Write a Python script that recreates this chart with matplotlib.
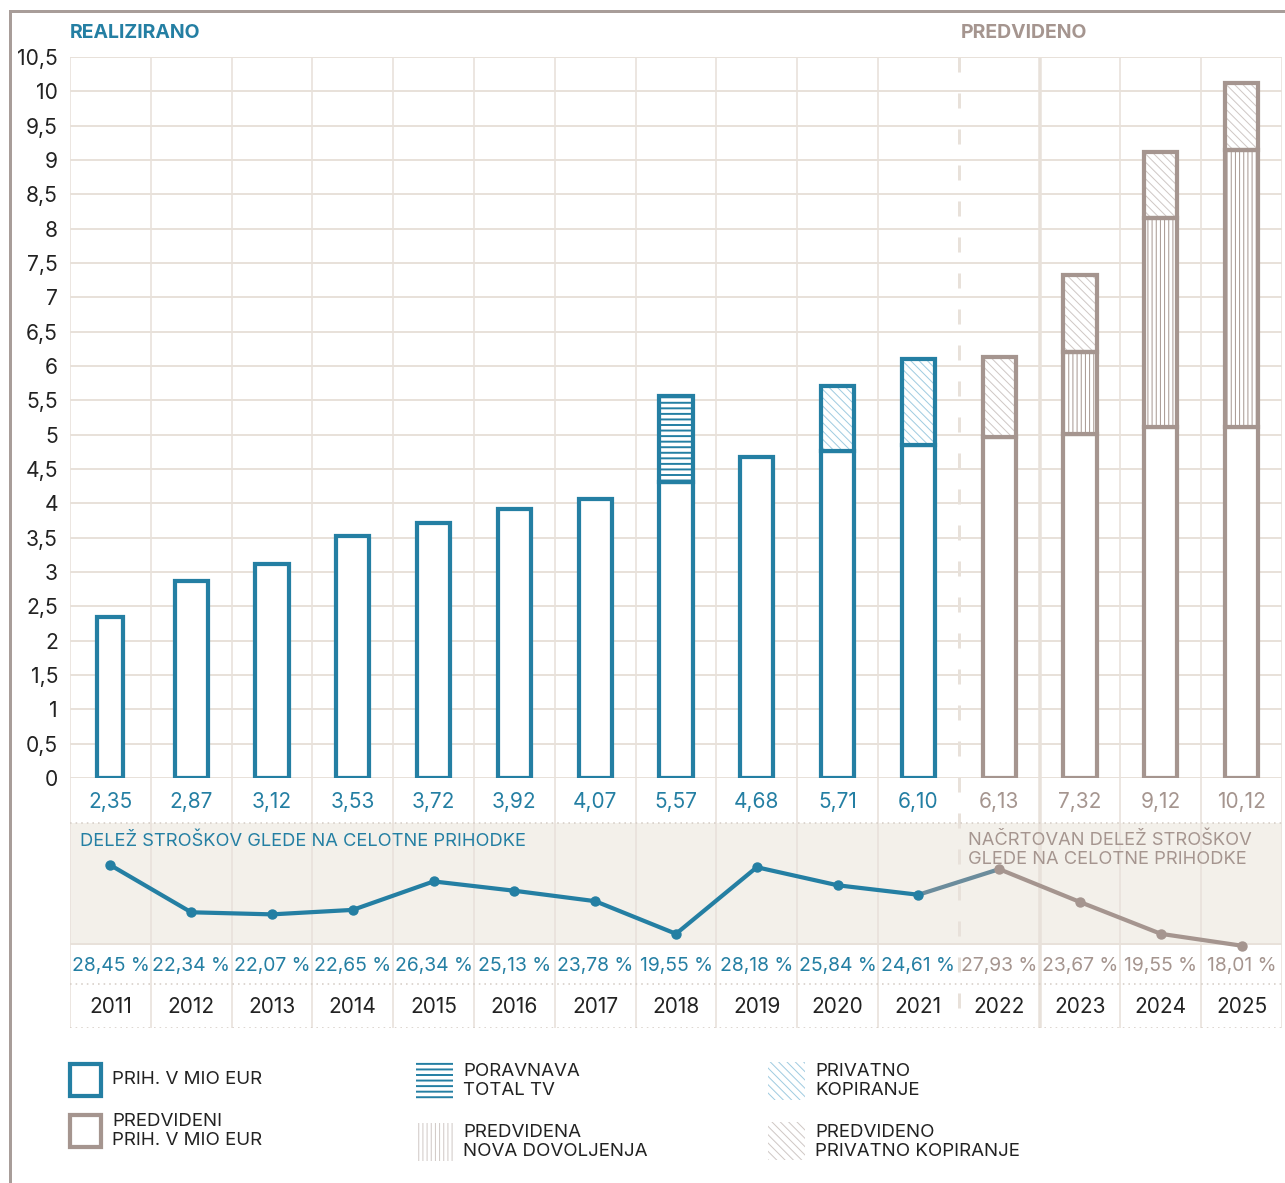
import numpy as np
import matplotlib.pyplot as plt
from matplotlib.patches import Rectangle

plt.rcParams['font.family'] = ['Inter', 'DejaVu Sans']

# data
years = [2011, 2012, 2013, 2014, 2015, 2016, 2017, 2018, 2019, 2020, 2021, 2022, 2023, 2024, 2025]
revenue = [2.35, 2.87, 3.12, 3.53, 3.72, 3.92, 4.07, 5.57, 4.68, 5.71, 6.10, 6.13, 7.32, 9.12, 10.12]
base_part = [2.35, 2.87, 3.12, 3.53, 3.72, 3.92, 4.07, 4.31, 4.68, 4.76, 4.85, 4.96, 5.01, 5.11, 5.11]
total_tv = [0, 0, 0, 0, 0, 0, 0, 1.26, 0, 0, 0, 0, 0, 0, 0]
new_licences = [0, 0, 0, 0, 0, 0, 0, 0, 0, 0, 0, 0, 1.19, 3.04, 4.03]
private_copy = [0, 0, 0, 0, 0, 0, 0, 0, 0, 0.95, 1.25, 1.17, 1.12, 0.97, 0.98]
cost_share = [28.45, 22.34, 22.07, 22.65, 26.34, 25.13, 23.78, 19.55, 28.18, 25.84, 24.61, 27.93, 23.67, 19.55, 18.01]
n_actual = 11  # 2011-2021 realised, rest planned

BLUE = '#247fa3'
GRAY = '#a5958f'
GRID = '#e8e1da'
BAND = '#f3f0ea'
DOT = '#d6cec7'
HATCH_BLUE = '#9ecbe0'
HATCH_GRAY = '#cfc7c4'
TEXT = '#222222'

W, H = 1285, 1183


def box(x0, y0, x1, y1):
    return [x0 / W, 1 - y1 / H, (x1 - x0) / W, (y1 - y0) / H]


def fmt(v, nd=2):
    return f'{v:.{nd}f}'.replace('.', ',')


def px(p):
    return p * 0.72


fig = plt.figure(figsize=(W / 100, H / 100), dpi=100)
x = np.arange(len(years))
n = len(years)

# background: band, vertical lines, rows of labels
bg = fig.add_axes(box(70, 57, 1282, 1028), zorder=0)
bg.set_xlim(-0.5, n - 0.5)
bg.set_ylim(1028, 57)
bg.axis('off')
bg.axhspan(823, 944, color=BAND, lw=0)
for k in range(n + 1):
    xb = k - 0.5
    if k == n_actual:
        bg.plot([xb, xb], [57, 1028], color=GRID, lw=px(3), ls=(0, (5, 7)),
                solid_capstyle='butt')
    elif k == n_actual + 1:
        bg.plot([xb, xb], [57, 1028], color=GRID, lw=px(3.5))
    else:
        bg.plot([xb, xb], [57, 1028], color=GRID, lw=px(1.6))
bg.plot([-0.5, n - 0.5], [944, 944], color=GRID, lw=px(2))
for yy in [823, 984, 1028]:
    bg.plot([-0.5, n - 0.5], [yy, yy], color=DOT, lw=px(1.6), ls=(0, (1, 2.5)))

for i in range(n):
    c = BLUE if i < n_actual else GRAY
    bg.text(x[i], 802, fmt(revenue[i]), color=c, fontsize=15, ha='center', va='center')
    bg.text(x[i], 966, fmt(cost_share[i]) + ' %', color=c, fontsize=13.9, ha='center', va='center')
    bg.text(x[i], 1007, str(years[i]), color=TEXT, fontsize=15, ha='center', va='center')

bg.text(-0.38, 841, 'DELEŽ STROŠKOV GLEDE NA CELOTNE PRIHODKE', color=BLUE,
        fontsize=13.2, ha='left', va='center')
bg.text(n_actual - 0.38, 850, 'NAČRTOVAN DELEŽ STROŠKOV\nGLEDE NA CELOTNE PRIHODKE', color=GRAY,
        fontsize=13.2, ha='left', va='center', linespacing=1.12)

# bar chart
ax = fig.add_axes(box(70, 57, 1282, 778), zorder=1)
ax.patch.set_alpha(0)
ax.set_xlim(-0.5, n - 0.5)
ax.set_ylim(0, 10.5)
for s in ax.spines.values():
    s.set_visible(False)
yt = np.arange(0, 10.51, 0.5)
ax.set_yticks(yt)
ax.set_yticklabels([('%g' % v).replace('.', ',') for v in yt], fontsize=15.2, color=TEXT)
ax.tick_params(axis='y', length=0, pad=px(12))
ax.set_xticks([])
for v in yt:
    ax.axhline(v, color=GRID, lw=px(2), zorder=0)

widths = [0.32] + [0.41] * (n - 1)
edge = [BLUE if i < n_actual else GRAY for i in range(n)]
lw_bar = px(4.2)

tops = np.array(base_part, dtype=float)
ax.bar(x, base_part, width=widths, color='white', edgecolor=edge, lw=lw_bar, zorder=3)

layers = [
    (total_tv, '---', BLUE, 1.4),
    (new_licences, '||||', GRAY, 0.7),
    (private_copy, '\\\\\\\\', None, 0.7),
]
for vals, hatch, hc, hlw in layers:
    vals = np.array(vals, dtype=float)
    for i in range(n):
        if vals[i] <= 0:
            continue
        hcol = hc
        if hcol is None:
            hcol = HATCH_BLUE if i < n_actual else HATCH_GRAY
        with plt.rc_context({'hatch.linewidth': hlw}):
            b = ax.bar(x[i], vals[i], bottom=tops[i], width=widths[i], color='white',
                       edgecolor=hcol, lw=0, hatch=hatch, zorder=3)
        for p in b:
            if hasattr(p, 'set_hatch_linewidth'):
                p.set_hatch_linewidth(hlw)
        ax.bar(x[i], vals[i], bottom=tops[i], width=widths[i], fill=False,
               edgecolor=edge[i], lw=lw_bar, zorder=4)
    tops = tops + vals

# line chart in band
lax = fig.add_axes(box(70, 823, 1282, 944), zorder=2)
lax.patch.set_alpha(0)
lax.set_xlim(-0.5, n - 0.5)
lax.set_ylim(18.23, 33.91)
lax.axis('off')
lax.plot(x[:n_actual], cost_share[:n_actual], color=BLUE, lw=px(4.2), marker='o',
         ms=px(9), solid_joinstyle='round', clip_on=False)
lax.plot(x[n_actual - 1:n_actual + 1], cost_share[n_actual - 1:n_actual + 1], color='#6b8c9c',
         lw=px(4.2), clip_on=False, zorder=1)
lax.plot(x[n_actual:], cost_share[n_actual:], color=GRAY, lw=px(4.2), marker='o',
         ms=px(9), solid_joinstyle='round', clip_on=False)

# frame, headers and legend (pixel coords)
top = fig.add_axes([0, 0, 1, 1], zorder=-1)
top.set_xlim(0, W)
top.set_ylim(H, 0)
top.axis('off')
top.plot([10, W], [11, 11], color='#a89d99', lw=px(3))
top.plot([10, 10], [11, H], color='#a89d99', lw=px(3))

hd = fig.add_axes([0, 0, 1, 1], zorder=5)
hd.set_xlim(0, W)
hd.set_ylim(H, 0)
hd.axis('off')
hd.text(70, 33, 'REALIZIRANO', color=BLUE, fontsize=14, fontweight='bold', va='center')
hd.text(961, 33, 'PREDVIDENO', color=GRAY, fontsize=14, fontweight='bold', va='center')

hd.add_patch(Rectangle((70, 1064), 31, 32, fill=False, edgecolor=BLUE, lw=lw_bar))
hd.add_patch(Rectangle((70, 1115), 31, 32, fill=False, edgecolor=GRAY, lw=lw_bar))
legend_hatches = [
    ((416, 1062), '---', BLUE, 1.4),
    ((418, 1123), '||||', HATCH_GRAY, 0.7),
    ((768, 1062), '\\\\\\\\', HATCH_BLUE, 0.7),
    ((768, 1122), '\\\\\\\\', HATCH_GRAY, 0.7),
]
for (lx, ly), hatch, hc, hlw in legend_hatches:
    with plt.rc_context({'hatch.linewidth': hlw}):
        r = Rectangle((lx, ly), 37, 38, facecolor='white', edgecolor=hc, lw=0, hatch=hatch)
    if hasattr(r, 'set_hatch_linewidth'):
        r.set_hatch_linewidth(hlw)
    hd.add_patch(r)

leg_kw = dict(color=TEXT, fontsize=13.5, ha='left', va='center', linespacing=1.18)
hd.text(112, 1080, 'PRIH. V MIO EUR', **leg_kw)
hd.text(112, 1131, 'PREDVIDENI\nPRIH. V MIO EUR', **leg_kw)
hd.text(463, 1081, 'PORAVNAVA\nTOTAL TV', **leg_kw)
hd.text(463, 1142, 'PREDVIDENA\nNOVA DOVOLJENJA', **leg_kw)
hd.text(815, 1081, 'PRIVATNO\nKOPIRANJE', **leg_kw)
hd.text(815, 1142, 'PREDVIDENO\nPRIVATNO KOPIRANJE', **leg_kw)

fig.savefig('out.png', dpi=100)
